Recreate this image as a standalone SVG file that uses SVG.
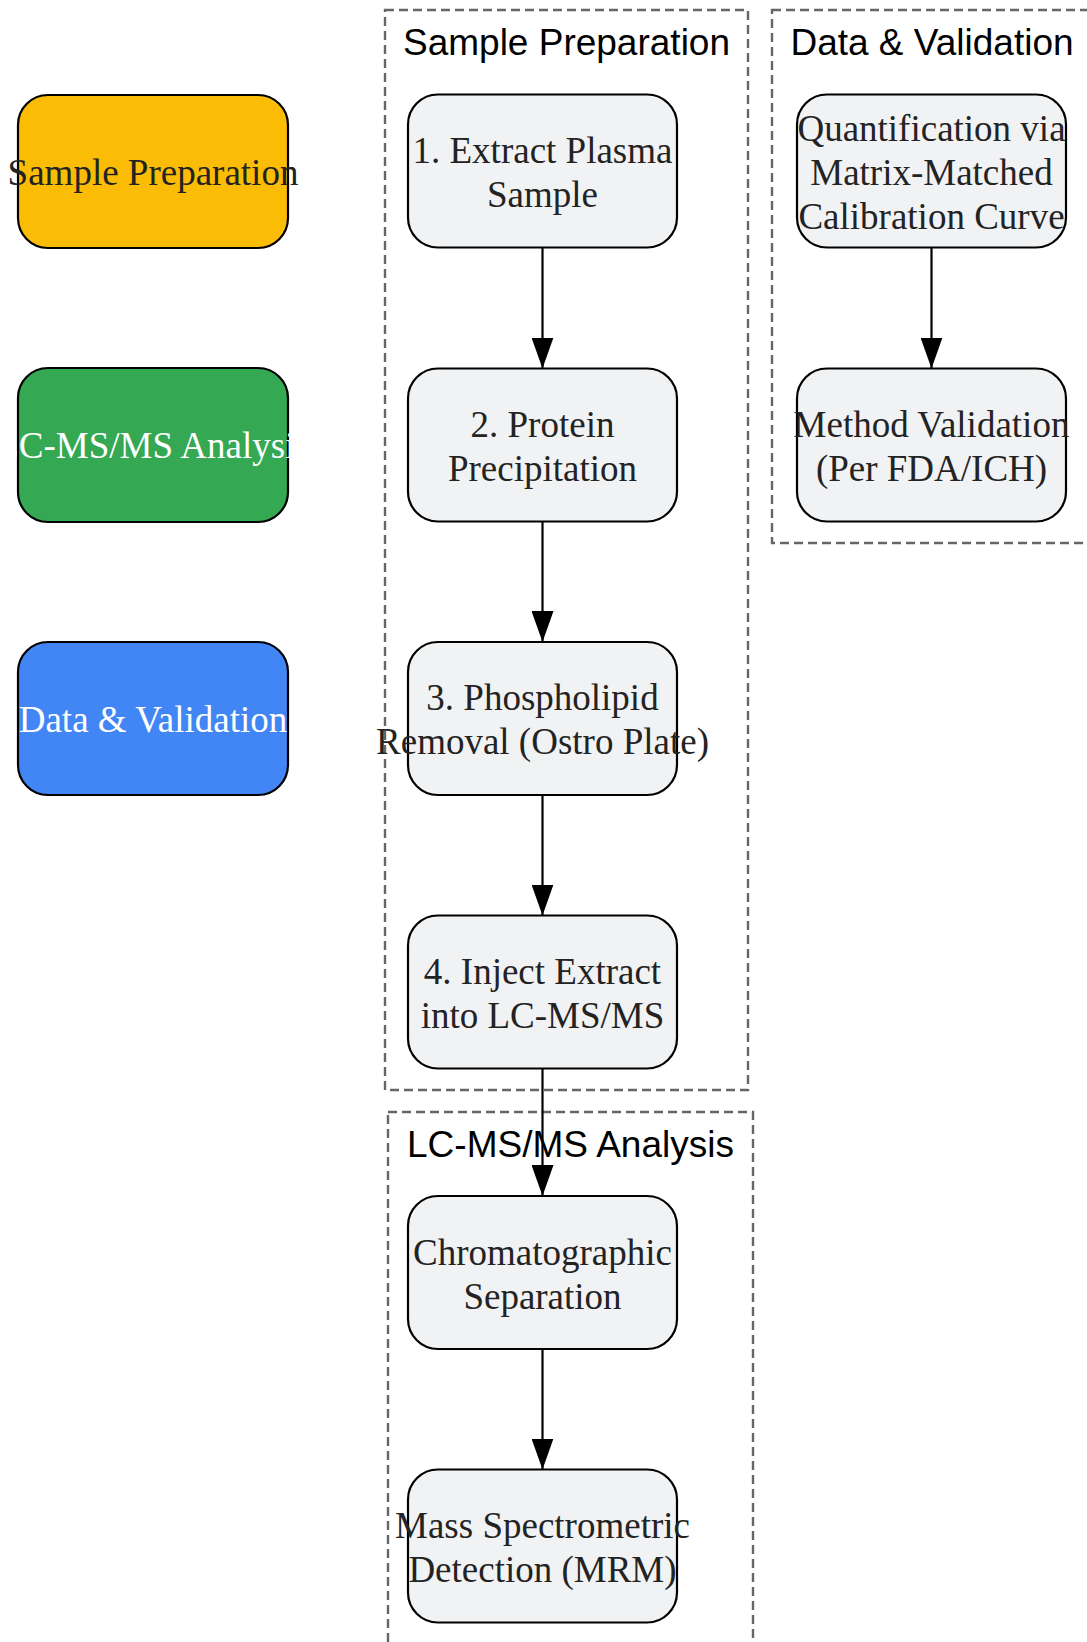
<svg xmlns="http://www.w3.org/2000/svg" width="1087" height="1642" viewBox="0 0 1087 1642">
<defs>
<style>
.cluster{fill:none;stroke:#666;stroke-width:2.4;stroke-dasharray:9 5}
.ctitle{font-family:"Liberation Sans",Arial,sans-serif;font-size:37px;fill:#000;text-anchor:middle}
.node{fill:#F1F2F4;stroke:#000;stroke-width:2.2}
.ntext{font-family:"Liberation Serif","Times New Roman",serif;font-size:37px;fill:#232323;text-anchor:middle}
.edge{stroke:#000;stroke-width:2.2;fill:none}
</style>
<marker id="arrow" viewBox="0 0 31 22" refX="31" refY="11" markerWidth="31" markerHeight="22" markerUnits="userSpaceOnUse" orient="auto">
<path d="M0,0 L31,11 L0,22 z" fill="#000"/>
</marker>
</defs>
<rect width="1087" height="1642" fill="#fff"/>
<g id="clusters">
<g id="cluster-sample-prep">
<rect class="cluster" x="385" y="10" width="363" height="1080"/>
<text class="ctitle" x="566.5" y="55">Sample Preparation</text>
</g>
<g id="cluster-data">
<rect class="cluster" x="772" y="10" width="330" height="533"/>
<text class="ctitle" x="932" y="55">Data &amp; Validation</text>
</g>
<g id="cluster-lcms">
<rect class="cluster" x="388" y="1112" width="365" height="600"/>
<text class="ctitle" x="570.5" y="1157">LC-MS/MS Analysis</text>
</g>
</g>
<g id="legend-sample-prep">
<rect x="18" y="95" width="270" height="153" rx="30" fill="#FBBC05" stroke="#000" stroke-width="2.2"/>
<text class="ntext" x="153" y="185">Sample Preparation</text>
</g>
<g id="legend-lcms">
<rect x="18" y="368" width="270" height="154" rx="30" fill="#34A853" stroke="#000" stroke-width="2.2"/>
<text class="ntext" x="153" y="458" style="fill:#fff">LC-MS/MS Analysis</text>
</g>
<g id="legend-data">
<rect x="18" y="642" width="270" height="153" rx="30" fill="#4285F4" stroke="#000" stroke-width="2.2"/>
<text class="ntext" x="153" y="732" style="fill:#fff">Data &amp; Validation</text>
</g>
<g id="node1">
<rect class="node" x="408" y="94.5" width="269" height="153" rx="30"/>
<text class="ntext" x="542.5" y="162.5">1. Extract Plasma</text>
<text class="ntext" x="542.5" y="206.5">Sample</text>
</g>
<g id="node2">
<rect class="node" x="408" y="368.5" width="269" height="153" rx="30"/>
<text class="ntext" x="542.5" y="436.5">2. Protein</text>
<text class="ntext" x="542.5" y="480.5">Precipitation</text>
</g>
<g id="node3">
<rect class="node" x="408" y="642" width="269" height="153" rx="30"/>
<text class="ntext" x="542.5" y="710">3. Phospholipid</text>
<text class="ntext" x="542.5" y="754">Removal (Ostro Plate)</text>
</g>
<g id="node4">
<rect class="node" x="408" y="915.5" width="269" height="153" rx="30"/>
<text class="ntext" x="542.5" y="983.5">4. Inject Extract</text>
<text class="ntext" x="542.5" y="1027.5">into LC-MS/MS</text>
</g>
<g id="node5">
<rect class="node" x="408" y="1196" width="269" height="153" rx="30"/>
<text class="ntext" x="542.5" y="1264.5">Chromatographic</text>
<text class="ntext" x="542.5" y="1308.5">Separation</text>
</g>
<g id="node6">
<rect class="node" x="408" y="1469.5" width="269" height="153" rx="30"/>
<text class="ntext" x="542.5" y="1538">Mass Spectrometric</text>
<text class="ntext" x="542.5" y="1582">Detection (MRM)</text>
</g>
<g id="node7">
<rect class="node" x="797" y="94.5" width="269" height="153" rx="30"/>
<text class="ntext" x="931.5" y="140.5">Quantification via</text>
<text class="ntext" x="931.5" y="184.5">Matrix-Matched</text>
<text class="ntext" x="931.5" y="228.5">Calibration Curve</text>
</g>
<g id="node8">
<rect class="node" x="797" y="368.5" width="269" height="153" rx="30"/>
<text class="ntext" x="931.5" y="436.5">Method Validation</text>
<text class="ntext" x="931.5" y="480.5">(Per FDA/ICH)</text>
</g>
<g id="connectors">
<path class="edge" d="M542.5,247.5 L542.5,368.5" marker-end="url(#arrow)"/>
<path class="edge" d="M542.5,521.5 L542.5,642" marker-end="url(#arrow)"/>
<path class="edge" d="M542.5,795 L542.5,915.5" marker-end="url(#arrow)"/>
<path class="edge" d="M542.5,1068.5 L542.5,1196" marker-end="url(#arrow)"/>
<path class="edge" d="M542.5,1349 L542.5,1469.5" marker-end="url(#arrow)"/>
<path class="edge" d="M931.5,247.5 L931.5,368.5" marker-end="url(#arrow)"/>
</g>
</svg>
